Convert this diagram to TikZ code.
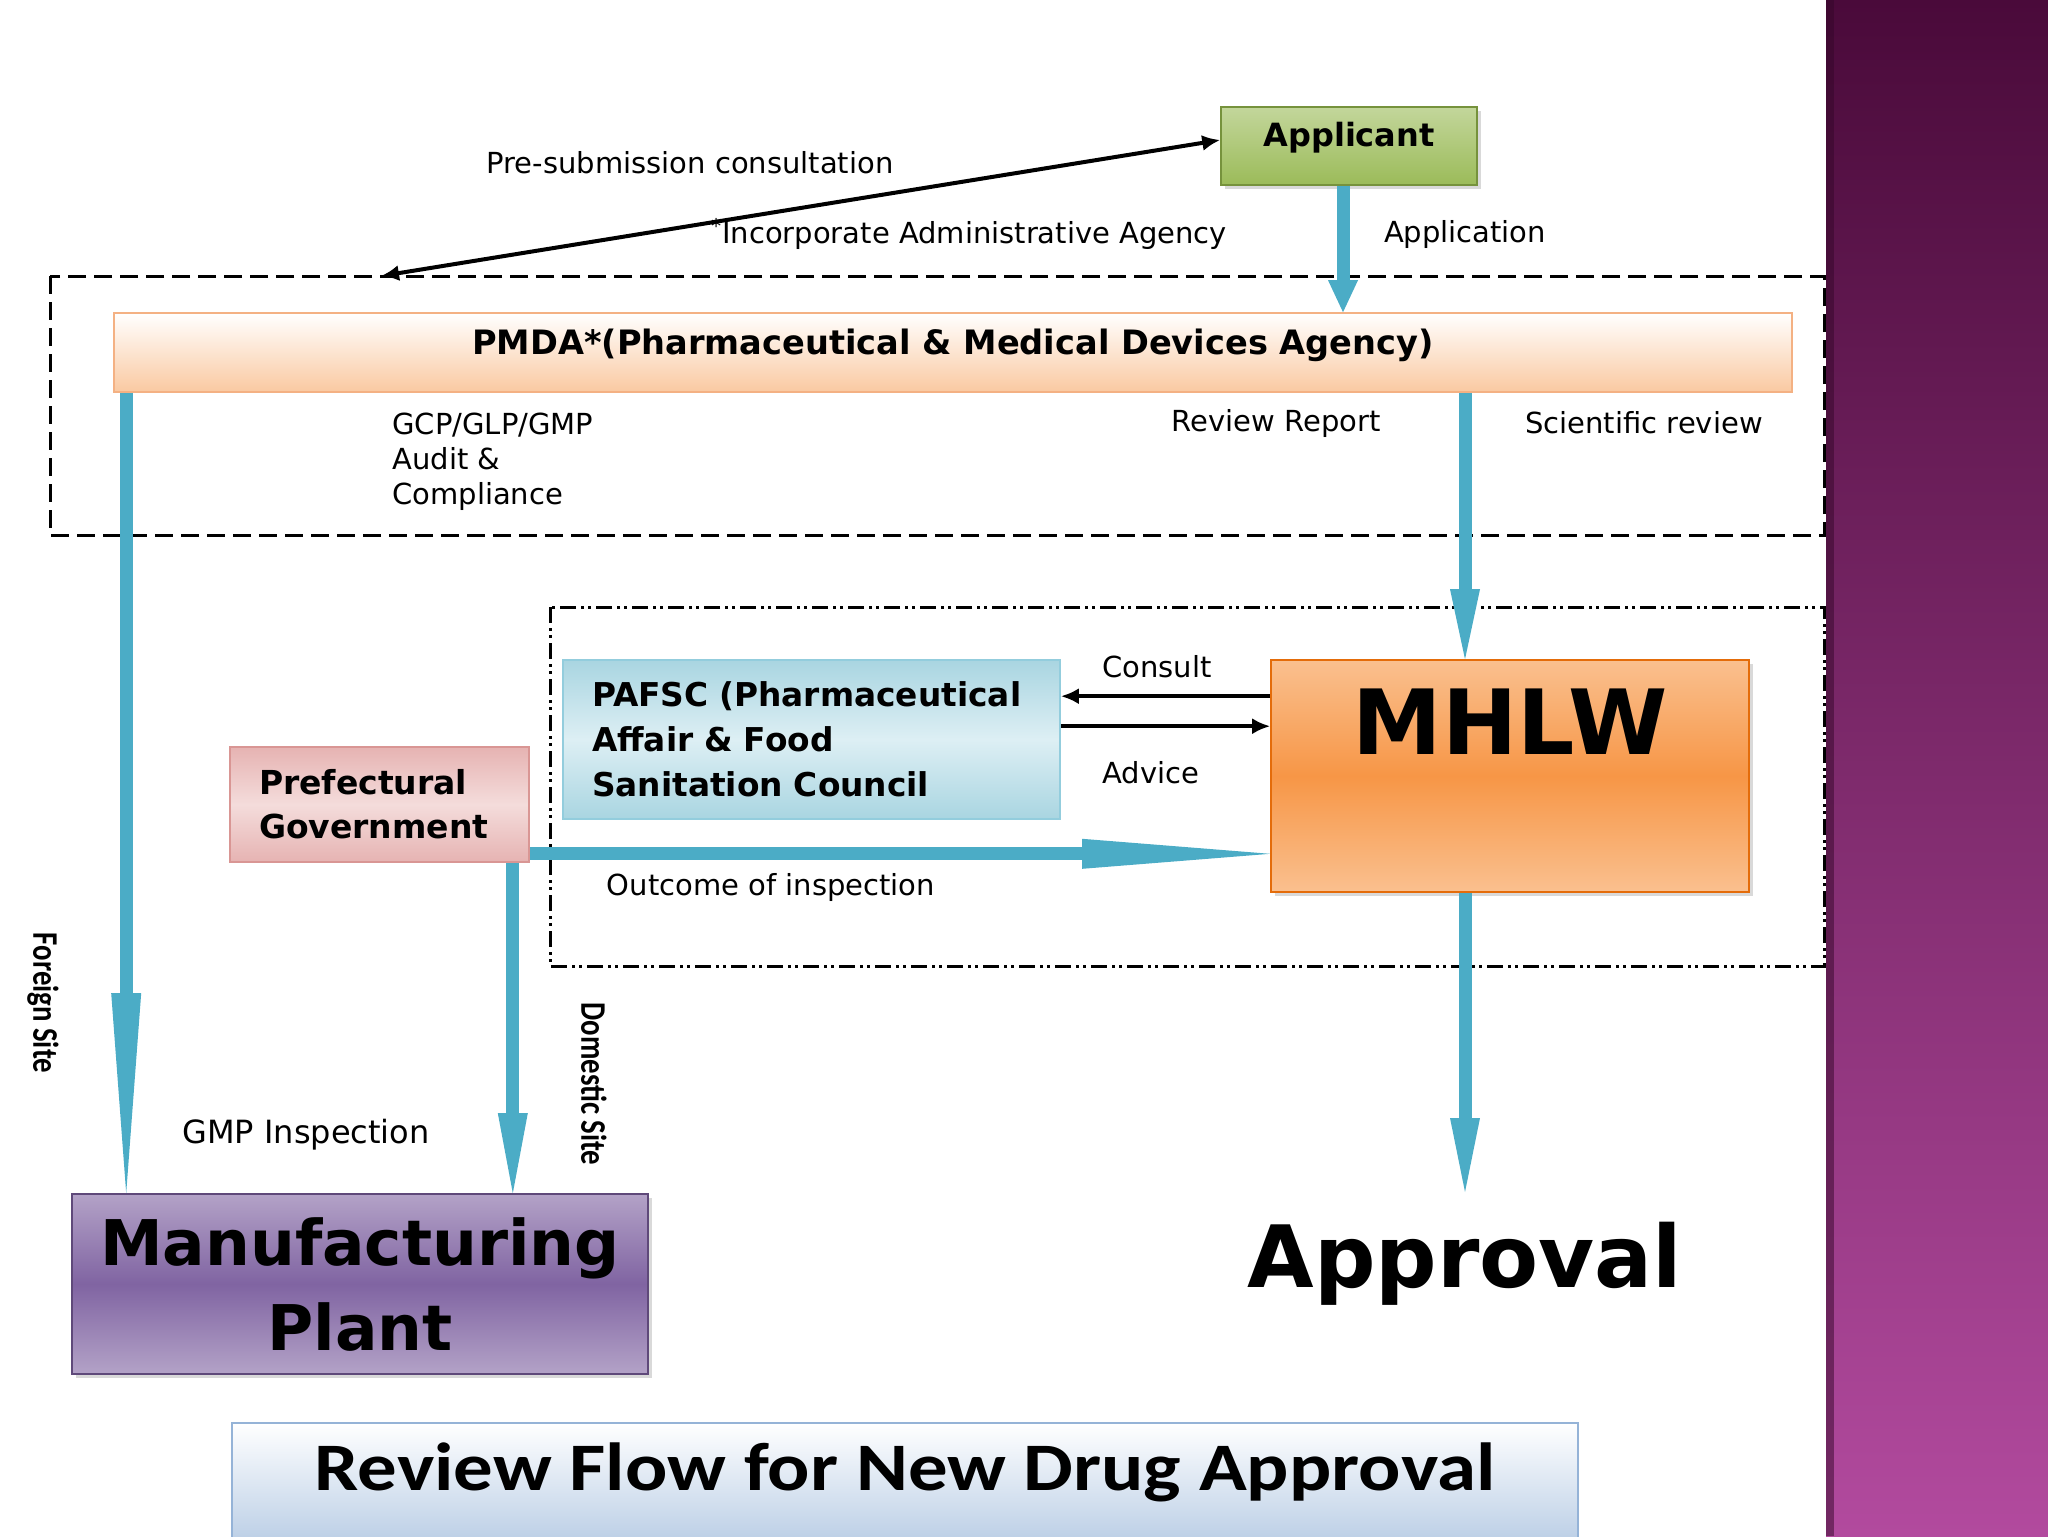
\documentclass[tikz,border=0pt]{standalone}
\usepackage{fontspec}
\setmainfont{DejaVu Sans}
\newfontfamily\calibwide[FakeStretch=1.16]{Carlito Bold}
\newfontfamily\calibnarrow[FakeStretch=0.8]{Carlito Bold}
\usetikzlibrary{positioning, arrows.meta, shadows}

\definecolor{flowblue}{HTML}{4BACC6}
\definecolor{appgreen}{HTML}{9BBB59}
\definecolor{appgreenlt}{HTML}{C3D69B}
\definecolor{appedge}{HTML}{76923C}
\definecolor{pmdapeach}{HTML}{FAC9A1}
\definecolor{pmdaedge}{HTML}{F4B183}
\definecolor{aqualt}{HTML}{DDEFF4}
\definecolor{aqua}{HTML}{A9D5E1}
\definecolor{aquaedge}{HTML}{93CDDD}
\definecolor{rose}{HTML}{E6B3B2}
\definecolor{roselt}{HTML}{F4DCDB}
\definecolor{roseedge}{HTML}{D99694}
\definecolor{orangelt}{HTML}{FAC08F}
\definecolor{orangemid}{HTML}{F79646}
\definecolor{orangeedge}{HTML}{E46C0A}
\definecolor{violetlt}{HTML}{B3A2C7}
\definecolor{violetmid}{HTML}{8064A2}
\definecolor{violetedge}{HTML}{5F497A}
\definecolor{titleblue}{HTML}{B9CDE5}
\definecolor{titleedge}{HTML}{95B3D7}
\definecolor{bandtop}{HTML}{4A0A3A}
\definecolor{bandbot}{HTML}{B24A9E}

\begin{document}
\begin{tikzpicture}[
    x=0.5pt, y=-0.5pt,
    lbl/.style={font=\fontsize{14.5}{17.5}\selectfont, inner sep=0pt},
    sitelbl/.style={font=\calibnarrow\fontsize{18}{20}\selectfont, inner sep=0pt, rotate=-90},
    bigarrow/.style={draw=flowblue, line width=6.5pt,
        -{Triangle[length=#1, width=15pt, line width=0pt]}},
    bigarrow/.default=40pt,
    thinarrow/.style={-{Latex[length=9pt, width=8pt]}, line width=2pt},
    zone/.style={line width=1.5pt, dash pattern=on 9pt off 4pt},
    council/.style={line width=1.5pt,
        dash pattern=on 8pt off 2.5pt on 1.5pt off 2pt on 1.5pt off 2.5pt},
    shade box/.style={draw=#1, line width=0.8pt, inner sep=0pt}
]

\useasboundingbox (0,0) rectangle (2048,1536);

% dashed zones
\draw[zone] (50,276) rectangle (1824,535);
\draw[council] (550,607) rectangle (1824,966);

% boxes
\node[shade box=appedge, top color=appgreenlt, bottom color=appgreen,
    drop shadow={opacity=0.3, shadow xshift=2pt, shadow yshift=-2pt},
    minimum width=128pt, text height=20pt, text depth=19pt,
    font=\bfseries\fontsize{16}{19}\selectfont] (app) at (1349,146) {Applicant};

\node[shade box=pmdaedge, top color=white, bottom color=pmdapeach,
    minimum width=839pt, text height=20.5pt, text depth=19pt,
    font=\bfseries\fontsize{16.8}{19}\selectfont] (pmda) at (953,352.5)
    {PMDA*(Pharmaceutical \& Medical Devices Agency)};

\node[shade box=aquaedge, top color=aqua, bottom color=aqua, middle color=aqualt,
    minimum height=79.5pt, text width=219.5pt, inner xsep=14.5pt, align=left,
    font=\bfseries\fontsize{16.4}{22.5}\selectfont] (pafsc) at (811.5,739.5)
    {PAFSC (Pharmaceutical\\Affair \& Food\\Sanitation Council};

\node[shade box=orangeedge, top color=orangelt, bottom color=orangelt, middle color=orangemid,
    drop shadow={opacity=0.3, shadow xshift=2pt, shadow yshift=-2pt},
    minimum width=239pt, text height=47pt, text depth=69pt,
    font=\bfseries\fontsize{45}{50}\selectfont] (mhlw) at (1510,776) {MHLW};

\node[shade box=roseedge, top color=rose, bottom color=rose, middle color=roselt,
    minimum height=57.5pt, text width=120.5pt, inner xsep=14.5pt, align=left,
    font=\bfseries\fontsize{16.5}{22}\selectfont] (pref) at (379.5,804.5)
    {Prefectural\\Government};

\node[shade box=violetedge, top color=violetlt, bottom color=violetlt, middle color=violetmid,
    drop shadow={opacity=0.3, shadow xshift=2pt, shadow yshift=-2pt},
    minimum width=288pt, minimum height=90pt, align=center,
    font=\bfseries\fontsize{31.5}{42.5}\selectfont] (plant) at (360,1284)
    {Manufacturing\\Plant};

\node[inner sep=0pt, font=\bfseries\fontsize{43}{48}\selectfont] (approval) at (1465,1264) {Approval};

\node[shade box=titleedge, top color=white, bottom color=titleblue, anchor=north,
    minimum width=673pt, text height=34pt, text depth=27.5pt,
    font=\calibwide\fontsize{34}{40}\selectfont] (title) at (905,1422)
    {Review Flow for New Drug Approval};

% labels
\node[lbl] (presub) at (690,163) {Pre-submission consultation};
\node[lbl] (iaa) at (969,234) {\textsuperscript{*}Incorporate Administrative Agency};
\node[lbl] (applbl) at (1465,234) {Application};
\node[lbl, align=left, anchor=west] (gcp) at (392,462) {GCP/GLP/GMP\\Audit \&\\Compliance};
\node[lbl] (rr) at (1276,423) {Review Report};
\node[lbl] (sr) at (1644,423) {Scientific review};
\node[lbl] (consult) at (1157,667) {Consult};
\node[lbl] (advice) at (1151,773) {Advice};
\node[lbl] (outcome) at (771,887) {Outcome of inspection};
\node[lbl, font=\fontsize{16}{19}\selectfont] (gmp) at (306,1135) {GMP Inspection};
\node[sitelbl] (foreign) at (43,1003) {Foreign Site};
\node[sitelbl] (domestic) at (594,1084) {Domestic Site};

% connectors
\coordinate (ps) at (381,276);
\coordinate (ap) at ([xshift=-3pt]app.south);
\coordinate (fs) at ([xshift=6.5pt]pmda.south west);
\coordinate (ds) at ([xshift=-8.5pt]pref.south east);
\coordinate (rv) at ([xshift=-22.5pt]mhlw.north);
\coordinate (oc) at ([yshift=4.5pt]pref.south east);
\coordinate (cs) at ([yshift=-18.5pt]mhlw.north west);
\coordinate (ad) at ([yshift=-33.5pt]mhlw.north west);

\draw[thinarrow, {Latex[length=9pt, width=8pt]}-{Latex[length=9pt, width=8pt]}]
    (ps) -- ([yshift=3pt]app.west);
\draw[bigarrow=16pt] (ap) -- (ap |- pmda.north);
\draw[bigarrow=100pt] (fs) -- (fs |- plant.north);
\draw[bigarrow=40pt] (ds) -- (ds |- plant.north);
\draw[bigarrow=35pt] (rv |- pmda.south) -- (rv);
\draw[bigarrow=37pt] (rv |- mhlw.south) -- ([yshift=15pt]approval.north);
\draw[bigarrow=94pt] (oc) -- (oc -| mhlw.west);
\draw[thinarrow] (cs) -- (cs -| pafsc.east);
\draw[thinarrow] (ad -| pafsc.east) -- (ad);

% side band
\fill[top color=bandtop, bottom color=bandbot] (1826,0) rectangle (2048,1536);
\fill[bandtop!70!black, opacity=0.5] (1826,0) rectangle (1834,1536);

\end{tikzpicture}
\end{document}
